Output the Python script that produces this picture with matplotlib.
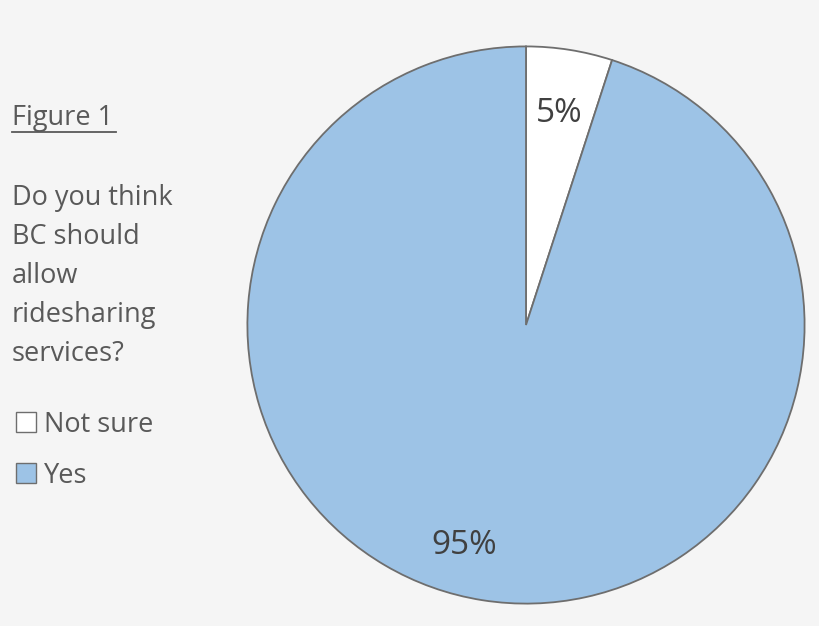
import matplotlib.pyplot as plt
from matplotlib.patches import Patch

labels = ["Not sure", "Yes"]
shares = [5, 95]
colors = ["#ffffff", "#9dc3e6"]

plt.rcParams['font.family'] = ['Open Sans', 'DejaVu Sans']
txt = "#595959"

fig = plt.figure(figsize=(8.2, 6.26), dpi=100)
fig.patch.set_facecolor("#f5f5f5")

ax = fig.add_axes([0.3, 0.0335, 0.6829, 0.8946])
wedges, texts, autotexts = ax.pie(
    shares, colors=colors, startangle=90, counterclock=False,
    autopct="%d%%", pctdistance=0.77,
    wedgeprops=dict(edgecolor="#6e6e6e", linewidth=1.3),
    textprops=dict(color="#404040", fontsize=24))
ax.set_xlim(-1.005, 1.005)
ax.set_ylim(-1.005, 1.005)
ax.set_aspect("equal")
# nudge the big label left/down like the original
x, y = autotexts[1].get_position()
autotexts[1].set_position((x - 0.1, y - 0.03))

fs = 19.5
fig.text(12 / 820, 1 - 118 / 626, "Figure 1", fontsize=fs, color=txt,
         va="center", ha="left")
fig.add_artist(plt.Line2D([12 / 820, 116 / 820], [1 - 132 / 626] * 2,
                          color=txt, lw=1.3))
fig.text(12 / 820, 1 - 184 / 626,
         "Do you think\nBC should\nallow\nridesharing\nservices?",
         fontsize=fs, color=txt, va="top", ha="left", linespacing=1.52)

handles = [Patch(facecolor=c, edgecolor="#6e6e6e") for c in colors]
fig.legend(handles, labels, loc="upper left",
           bbox_to_anchor=(-6 / 820, 1 - 389 / 626), frameon=False,
           fontsize=fs, labelcolor=txt, handlelength=0.75, handleheight=0.75,
           handletextpad=0.3, labelspacing=0.85, borderpad=0.3)

fig.savefig("out.png", dpi=100, facecolor=fig.get_facecolor())
